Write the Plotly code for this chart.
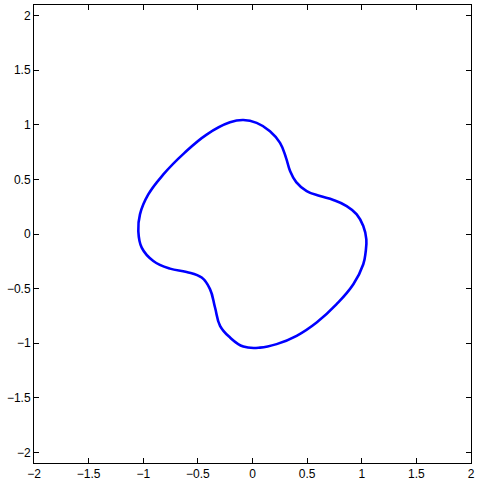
import plotly.graph_objects as go

# curve points (closed loop, clockwise from the top)
x_pts = [-0.206, -0.084, 0.038, 0.160, 0.252, 0.307, 0.343, 0.400, 0.496, 0.618,
         0.740, 0.862, 0.954, 1.014, 1.042, 1.035, 1.014, 0.923, 0.770, 0.587,
         0.404, 0.221, 0.069, -0.084, -0.206, -0.297, -0.343, -0.389, -0.465, -0.603,
         -0.755, -0.908, -1.014, -1.045, -1.030, -0.954, -0.816, -0.625, -0.420, -0.206]
y_pts = [1.022, 1.043, 1.017, 0.941, 0.834, 0.697, 0.580, 0.475, 0.393, 0.347,
         0.311, 0.256, 0.180, 0.073, -0.050, -0.170, -0.277, -0.460, -0.642, -0.810,
         -0.932, -1.008, -1.040, -1.030, -0.947, -0.840, -0.673, -0.505, -0.399, -0.347,
         -0.317, -0.247, -0.125, 0.027, 0.180, 0.362, 0.545, 0.740, 0.910, 1.022]

tick_vals = [-2, -1.5, -1, -0.5, 0, 0.5, 1, 1.5, 2]

fig = go.Figure()
fig.add_trace(go.Scatter(x=x_pts, y=y_pts, mode="lines",
                         line=dict(color="#0000ff", width=2.6, shape="spline", smoothing=1.2),
                         showlegend=False))

axis_style = dict(showline=True, linecolor="black", linewidth=1, mirror="ticks",
                  ticks="inside", ticklen=5, tickcolor="black", showgrid=False,
                  zeroline=False, tickvals=tick_vals, automargin=False,
                  tickfont=dict(family="Liberation Sans, Arial, sans-serif", size=12, color="black"))

fig.update_layout(
    width=480, height=480,
    margin=dict(l=34, r=9, t=5, b=17),
    plot_bgcolor="white", paper_bgcolor="white",
    xaxis=dict(range=[-2, 2], **axis_style),
    yaxis=dict(range=[-2.096, 2.096], **axis_style),
)

fig.write_html("out.html", config={"displayModeBar": False},
               post_script="document.body.style.margin='0';")
